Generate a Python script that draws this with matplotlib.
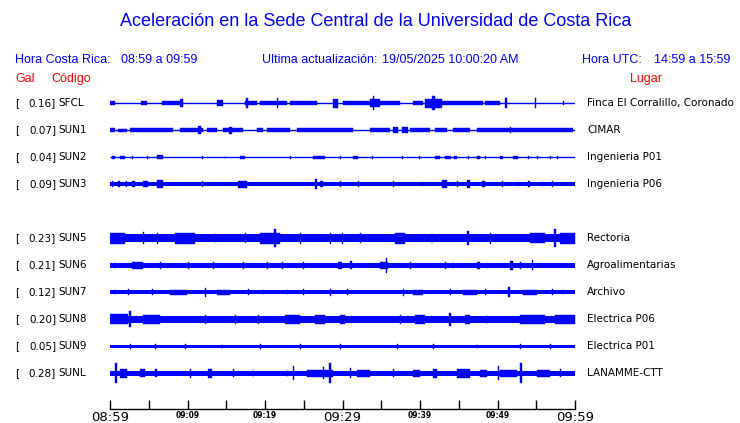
import matplotlib
matplotlib.use('Agg')
import matplotlib.pyplot as plt
import matplotlib.transforms as mtransforms

# Stations (SUN4 slot is empty in the display)
codes = ['SFCL', 'SUN1', 'SUN2', 'SUN3', None, 'SUN5', 'SUN6', 'SUN7', 'SUN8', 'SUN9', 'SUNL']
peaks = ['0.16', '0.07', '0.04', '0.09', None, '0.23', '0.21', '0.12', '0.20', '0.05', '0.28']
places = ['Finca El Corralillo, Coronado', 'CIMAR', 'Ingenieria P01', 'Ingenieria P06', None,
          'Rectoria', 'Agroalimentarias', 'Archivo', 'Electrica P06', 'Electrica P01', 'LANAMME-CTT']

# background noise half-amplitude of every trace (display units, 27 = one row)
base = [0, 0, 0, 2.2, None, 4, 2.2, 2, 3.2, 1.5, 2.7]

# bursts / spikes: (start minute, end minute, half amplitude)
ev_sfcl = [(0.0, 0.6, 2), (4.0, 4.8, 2), (6.7, 9.3, 2.2), (9.0, 9.4, 4), (13.8, 14.6, 3),
           (17.4, 19.0, 2.2), (17.6, 17.8, 5), (19.4, 21.0, 1.8), (21.0, 22.8, 2.2), (21.5, 21.7, 5),
           (23.2, 26.7, 2), (28.8, 29.4, 4.5), (30.1, 33.5, 1.8), (33.5, 34.8, 4), (33.9, 34.1, 7),
           (34.8, 37.4, 2.2), (39.1, 40.4, 2), (40.6, 42.8, 4.5), (41.6, 41.9, 7), (42.8, 48.1, 2.2),
           (48.4, 50.3, 1.8), (51.0, 51.2, 5), (54.8, 55.0, 5), (58.4, 58.6, 2)]
ev_sun1 = [(0.0, 0.6, 1.8), (1.0, 2.2, 1.5), (2.6, 8.1, 1.8), (9.0, 12.0, 2), (11.4, 11.7, 4),
           (12.5, 13.8, 1.8), (14.6, 17.2, 2), (15.4, 15.7, 3.5), (19.0, 19.7, 1.8), (20.3, 23.2, 1.8),
           (24.1, 31.3, 1.8), (33.5, 36.1, 1.8), (36.5, 37.2, 2.8), (37.7, 38.4, 2.8), (38.7, 41.3, 1.8),
           (41.9, 43.5, 1.8), (44.2, 46.4, 1.8), (47.3, 59.7, 2), (51.6, 51.8, 3)]
ev_sun2 = [(0.3, 0.6, 1.5), (1.3, 1.9, 1.5), (2.8, 3.0, 1.5), (4.8, 4.9, 1.5), (6.1, 6.8, 2),
           (11.9, 12.0, 1.5), (14.8, 14.9, 1.5), (16.8, 17.4, 1.5), (23.2, 23.3, 1.5), (26.2, 27.7, 1.5),
           (29.7, 29.8, 1.5), (31.3, 32.0, 1.5), (33.8, 33.9, 1.5), (37.7, 37.8, 1.5), (39.9, 40.0, 1.5),
           (41.9, 42.6, 1.5), (43.2, 44.0, 1.5), (44.4, 44.8, 1.5), (46.2, 46.3, 1.5), (47.3, 47.7, 1.5),
           (48.4, 48.5, 1.5), (50.3, 50.7, 1.5), (52.0, 52.6, 1.5), (53.9, 54.0, 1.5), (55.1, 55.2, 1.5),
           (56.8, 56.9, 1.5), (57.7, 57.8, 1.5)]
ev_sun3 = [(0.2, 0.4, 3), (1.0, 1.3, 3), (2.0, 2.2, 3), (2.8, 3.2, 3), (4.3, 4.9, 3), (6.1, 6.8, 4),
           (11.9, 12.0, 3), (16.5, 17.7, 3.2), (26.5, 26.7, 5), (27.1, 27.5, 3), (29.7, 29.8, 3),
           (32.0, 32.1, 3), (36.5, 36.6, 3), (40.2, 40.3, 3), (42.8, 43.5, 3.8), (44.8, 44.9, 3),
           (46.1, 46.4, 3.8), (48.0, 48.4, 3), (50.6, 50.7, 3), (52.6, 52.7, 3), (53.9, 54.2, 3),
           (55.7, 55.8, 3), (57.0, 57.1, 3)]
ev_sun5 = [(0.0, 1.9, 5.5), (4.3, 4.4, 6), (6.1, 6.2, 5.5), (8.4, 11.0, 5.3), (13.5, 13.6, 5),
           (17.4, 17.5, 5), (19.4, 21.9, 5.5), (21.2, 21.4, 9), (24.5, 24.6, 5.5), (28.4, 28.5, 5.5),
           (29.9, 30.0, 5.5), (32.3, 32.4, 5), (36.8, 38.1, 5.3), (41.5, 41.6, 5.5), (46.1, 46.3, 7),
           (49.0, 49.1, 5.5), (54.2, 56.1, 5), (57.3, 57.5, 9), (58.1, 60.0, 5.5)]
ev_sun6 = [(0.6, 0.7, 3.5), (2.8, 4.3, 3.2), (6.5, 6.6, 3.5), (10.1, 10.2, 3.5), (13.3, 13.4, 3.5),
           (17.2, 17.3, 3.5), (20.3, 20.4, 3.5), (22.2, 22.3, 3.5), (24.9, 25.0, 3.5), (29.4, 29.9, 3.5),
           (31.0, 31.2, 4), (34.8, 35.9, 3.5), (35.6, 35.8, 7.5), (38.7, 38.8, 3.5), (43.2, 43.3, 3.5),
           (44.2, 44.3, 3.5), (47.3, 47.7, 3.5), (48.6, 48.7, 3.5), (51.6, 52.0, 4.5), (52.9, 53.0, 3.5),
           (54.4, 54.6, 5)]
ev_sun7 = [(0.6, 0.7, 3), (2.3, 2.4, 3), (5.4, 5.5, 3), (7.7, 9.9, 2.6), (12.2, 12.4, 4.5),
           (13.8, 15.5, 2.6), (17.8, 17.9, 3), (19.7, 19.8, 3), (22.8, 22.9, 3), (24.9, 25.0, 3),
           (28.4, 28.5, 3.5), (30.6, 30.7, 3), (37.8, 37.9, 3.5), (39.1, 40.4, 2.6), (43.9, 44.0, 3),
           (45.5, 47.3, 2.6), (48.4, 48.5, 3), (51.4, 51.6, 5), (53.3, 55.1, 2.6), (57.0, 57.1, 3),
           (58.4, 58.5, 3)]
ev_sun8 = [(0.0, 2.3, 5), (2.5, 2.7, 8), (4.3, 6.5, 4.2), (12.3, 12.4, 4.5), (16.1, 16.2, 4.5),
           (19.1, 19.2, 4.5), (22.6, 24.5, 4.3), (26.4, 27.7, 4.2), (29.7, 30.3, 4.2), (37.4, 37.5, 4.5),
           (39.3, 40.6, 4.2), (43.8, 44.0, 6.5), (45.8, 46.4, 4.5), (48.6, 48.7, 4.5), (52.9, 56.1, 4.3),
           (57.4, 60.0, 4.6)]
ev_sun9 = [(2.6, 2.7, 2.5), (5.8, 5.9, 2.5), (9.7, 9.8, 2.5), (14.4, 14.5, 2.5), (19.4, 19.5, 2.5),
           (24.5, 24.6, 2.5), (29.7, 29.8, 2.5), (37.0, 37.1, 2.5), (41.7, 41.8, 2.5), (47.3, 47.4, 2.5),
           (52.9, 53.0, 2.5), (56.8, 56.9, 2.5)]
ev_sunl = [(0.7, 0.9, 10), (1.3, 2.2, 4.5), (3.9, 4.5, 4), (5.8, 6.1, 4), (10.3, 10.4, 4.5),
           (12.6, 13.2, 4.5), (15.9, 16.0, 4), (18.4, 18.5, 4), (22.8, 22.9, 4), (23.6, 23.8, 7),
           (25.4, 28.8, 3.8), (27.5, 27.6, 6), (28.3, 28.5, 10), (31.0, 31.1, 5), (31.9, 33.5, 3.6),
           (36.5, 36.6, 4), (39.1, 40.0, 3.8), (41.7, 42.2, 4.5), (44.8, 46.4, 4.5), (47.7, 48.6, 3.8),
           (50.0, 50.2, 7), (50.3, 52.5, 3.8), (52.9, 53.1, 10), (55.1, 56.8, 3.6), (58.1, 58.2, 4)]

events = [ev_sfcl, ev_sun1, ev_sun2, ev_sun3, None, ev_sun5, ev_sun6, ev_sun7, ev_sun8, ev_sun9, ev_sunl]

tick_minutes = list(range(0, 61, 5))
tick_labels = ['08:59', '', '09:09', '', '09:19', '', '09:29', '', '09:39', '', '09:49', '', '09:59']

BLUE = '#0000ff'
ROW = 27.0  # display units per row

W, H = 740, 423
fig = plt.figure(figsize=(W / 100, H / 100), dpi=100)
ax = fig.add_axes([110 / W, 1 - 409 / H, 465 / W, (409 - 90) / H])

for i, ev in enumerate(events):
    if ev is None:
        continue
    ax.plot([0, 60], [i, i], color=BLUE, lw=1.0, solid_capstyle='butt')
    if base[i] > 0:
        b = base[i] / ROW
        ax.fill_between([0, 60], i - b, i + b, color=BLUE, lw=0)
    for t0, t1, a in ev:
        h = a / ROW
        ax.fill_between([t0, t1], i - h, i + h, facecolor=BLUE, edgecolor=BLUE, lw=0.3)

ax.set_xlim(0, 60)
ax.set_ylim((409 - 103.3) / ROW, -(103.3 - 90) / ROW)
for s in ['top', 'left', 'right']:
    ax.spines[s].set_visible(False)
ax.spines['bottom'].set_linewidth(1.0)
ax.set_yticks([])
ax.set_xticks(tick_minutes)
ax.set_xticklabels(tick_labels)
ax.tick_params(axis='x', direction='in', length=6.5, width=1.0, pad=1.5)
for k, lab in enumerate(ax.get_xticklabels()):
    if k % 6 == 0:
        lab.set_fontsize(9.5)
    else:
        lab.set_fontsize(5.5)
        lab.set_fontweight('bold')

# station labels
tr = mtransforms.blended_transform_factory(fig.transFigure, ax.transData)
for i, code in enumerate(codes):
    if code is None:
        continue
    ax.text(15 / W, i, '[', transform=tr, fontsize=7.5, va='center', ha='left')
    ax.text(56 / W, i, peaks[i] + ']', transform=tr, fontsize=7.5, va='center', ha='right')
    ax.text(58 / W, i, code, transform=tr, fontsize=7.5, va='center', ha='left')
    ax.text(587 / W, i, places[i], transform=tr, fontsize=7.5, va='center', ha='left')

# header
hf = 'Liberation Sans'
fs = 9
fig.text(376 / W, 1 - 22 / H, 'Aceleración en la Sede Central de la Universidad de Costa Rica',
         family=hf, fontsize=13, color=BLUE, ha='center', va='center')
fig.text(15 / W, 1 - 60 / H, 'Hora Costa Rica:', family=hf, fontsize=fs,
         color=BLUE, ha='left', va='center')
fig.text(121 / W, 1 - 60 / H, '08:59 a 09:59', family=hf, fontsize=fs,
         color=BLUE, ha='left', va='center')
fig.text(262 / W, 1 - 60 / H, 'Ultima actualización:', family=hf, fontsize=fs,
         color=BLUE, ha='left', va='center')
fig.text(382 / W, 1 - 60 / H, '19/05/2025 10:00:20 AM', family=hf, fontsize=fs,
         color=BLUE, ha='left', va='center')
fig.text(582 / W, 1 - 60 / H, 'Hora UTC:', family=hf, fontsize=fs,
         color=BLUE, ha='left', va='center')
fig.text(654 / W, 1 - 60 / H, '14:59 a 15:59', family=hf, fontsize=fs,
         color=BLUE, ha='left', va='center')
fig.text(15 / W, 1 - 79 / H, 'Gal', family=hf, fontsize=fs, color='red', ha='left', va='center')
fig.text(51 / W, 1 - 79 / H, 'Código', family=hf, fontsize=fs, color='red', ha='left', va='center')
fig.text(630 / W, 1 - 79 / H, 'Lugar', family=hf, fontsize=fs, color='red', ha='left', va='center')

fig.savefig('out.png', dpi=100)
